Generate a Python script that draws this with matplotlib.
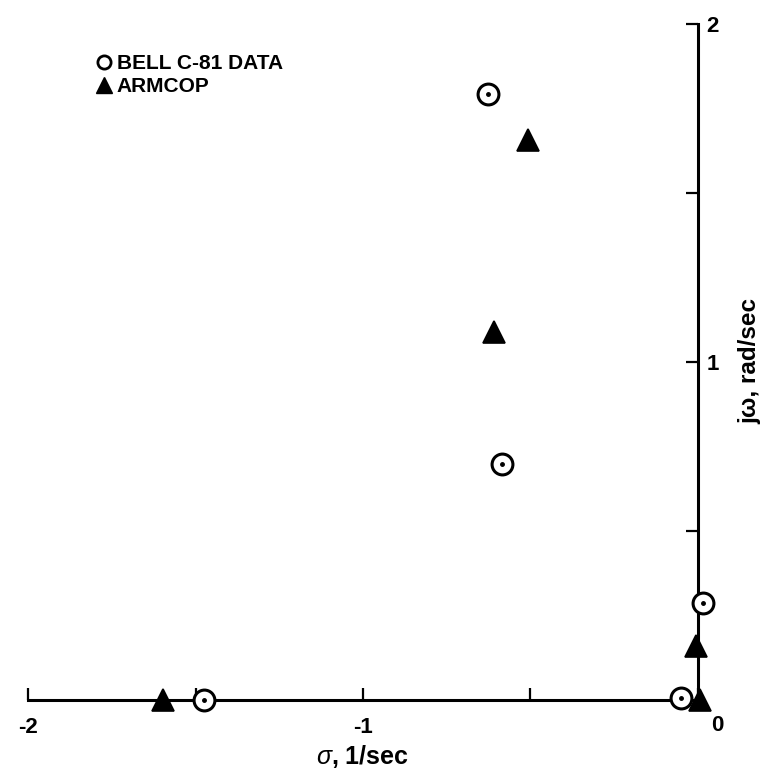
import matplotlib
matplotlib.use("Agg")
import matplotlib.pyplot as plt
from matplotlib.lines import Line2D

# Data (sigma, j-omega)
bell_sigma = [-0.627, -0.586, 0.014, -1.475, -0.051]
bell_omega = [1.793, 0.698, 0.286, 0.0, 0.006]
armcop_sigma = [-0.507, -0.609, -1.597, -0.006, 0.006]
armcop_omega = [1.657, 1.089, 0.0, 0.16, 0.0]

xticks = [-2, -1.5, -1, -0.5, 0]
xticklabels = ["-2", "", "-1", "", ""]
yticks = [0.5, 1, 1.5, 2]
yticklabels = ["", "1", "", "2"]

FONT = ["Liberation Sans", "DejaVu Sans"]
plt.rcParams["font.family"] = FONT
plt.rcParams["mathtext.fontset"] = "custom"
plt.rcParams["mathtext.it"] = "Liberation Sans:italic"
plt.rcParams["mathtext.rm"] = "Liberation Sans:bold"

W, H = 762, 777
fig = plt.figure(figsize=(W / 100, H / 100), dpi=100)
ax = fig.add_axes([0, 0, 1, 1])
ax.set_xlim(-698 / 335, (W - 698) / 335)
ax.set_ylim((700 - H) / 338, 700 / 338)

for s in ["top", "left"]:
    ax.spines[s].set_visible(False)
ax.spines["bottom"].set_position(("data", 0))
ax.spines["bottom"].set_bounds(-2, 0)
ax.spines["right"].set_position(("data", 0))
ax.spines["right"].set_bounds(0, 2)
for s in ["bottom", "right"]:
    ax.spines[s].set_linewidth(2.2)
    ax.spines[s].set_color("black")

ax.yaxis.tick_right()
ax.set_xticks(xticks)
ax.set_xticklabels(xticklabels)
ax.set_yticks(yticks)
ax.set_yticklabels(yticklabels)
ax.tick_params(axis="x", direction="in", length=9, width=1.6, pad=12,
               labelsize=16)
ax.tick_params(axis="y", direction="in", length=9, width=1.6, pad=6,
               labelsize=16)
for lab in ax.get_xticklabels() + ax.get_yticklabels():
    lab.set_fontweight("bold")

ax.annotate("0", xy=(0, 0), xytext=(14, -11), textcoords="offset points",
            ha="center", va="top", fontsize=16, fontweight="bold")

# ARMCOP triangles
ax.plot(armcop_sigma, armcop_omega, linestyle="none", marker="^",
        markersize=16.5, color="black", markeredgewidth=1.2, zorder=4)
# Bell data circles with center dot
ax.plot(bell_sigma, bell_omega, linestyle="none", marker="o",
        markersize=15, markerfacecolor="white", markeredgecolor="black",
        markeredgewidth=2.2, zorder=5)
ax.plot(bell_sigma, bell_omega, linestyle="none", marker="o",
        markersize=2.5, color="black", zorder=6)

handles = [
    Line2D([], [], linestyle="none", marker="o", markersize=9.5,
           markerfacecolor="white", markeredgecolor="black",
           markeredgewidth=2.0),
    Line2D([], [], linestyle="none", marker="^", markersize=11,
           color="black"),
]
leg = ax.legend(handles, ["BELL C-81 DATA", "ARMCOP"], loc="upper left",
                bbox_to_anchor=(97 / W, 1 - 54 / H), frameon=False,
                prop={"family": FONT, "weight": "bold", "size": 15},
                handlelength=0.7, handletextpad=0.25, labelspacing=0.2,
                borderaxespad=0, borderpad=0)

fig.text(362 / W, 1 - 756 / H, r"$\sigma$, 1/sec", ha="center",
         va="center", fontsize=18, fontweight="bold")
fig.text(750 / W, 1 - 361 / H, "jω, rad/sec", ha="center", va="center",
         rotation=90, fontsize=17.5, fontweight="bold")

fig.savefig("out.png", dpi=100)
